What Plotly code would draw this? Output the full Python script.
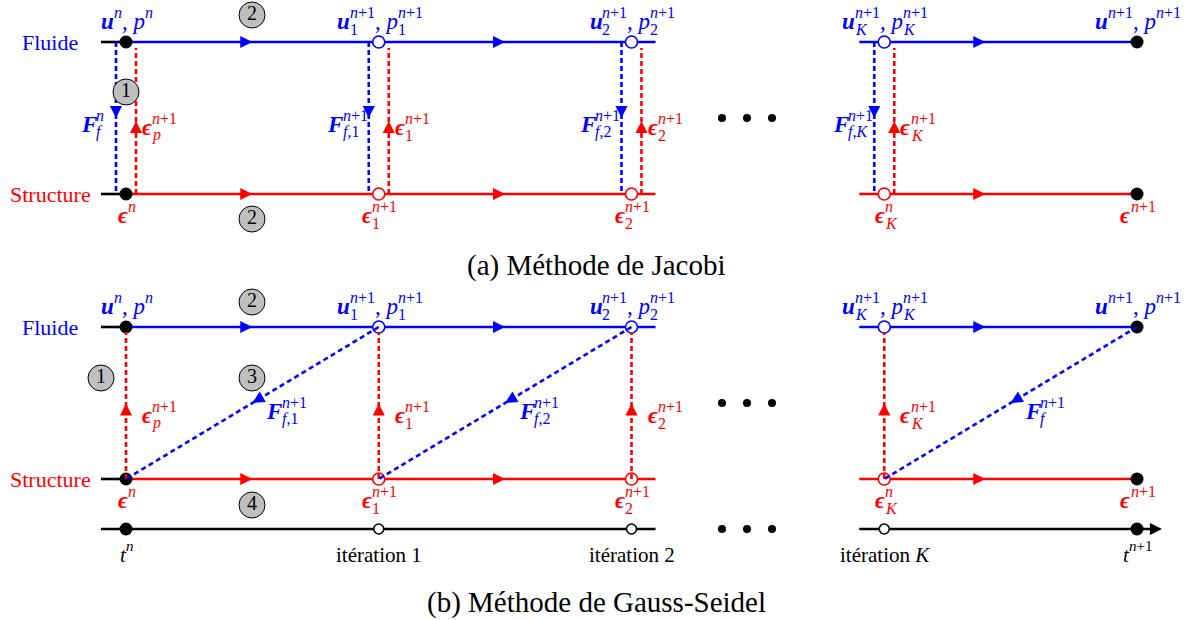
import re
import plotly.graph_objects as go

W, H = 1192, 620
X0, STEP = 126, 252.75          # horizontal placement of iteration nodes
BLUE, RED, BLACK = "#0000ff", "#ff0000", "#000000"
FONT = "Liberation Serif, DejaVu Serif, serif"

# ---------------- data ----------------
node_index = [0, 1, 2, 3, 4]                     # t^n, it. 1, it. 2, it. K, t^{n+1}
node_solid = [True, False, False, False, True]
flow_arrow_pos = [0.5, 1.5, 3.4]                 # arrow marks on the time lines

U = "<b><i>u</i></b>"
P = ", <i>p</i>"
E = "<b><i>ϵ</i></b>"
F = "<b><i>F</i></b>"
N, N1 = "<i>n</i>", "<i>n</i>+1"

fluid_labels = [
    [(U, N, ""), (P, N, "")],
    [(U, N1, "1"), (P, N1, "1")],
    [(U, N1, "2"), (P, N1, "2")],
    [(U, N1, "<i>K</i>"), (P, N1, "<i>K</i>")],
    [(U, N1, ""), (P, N1, "")],
]
struct_labels = [
    [(E, N, "")],
    [(E, N1, "1")],
    [(E, N1, "2")],
    [(E, N, "<i>K</i>")],
    [(E, N1, "")],
]
jacobi_force_labels = [
    [(F, N, "<i>f</i>")],
    [(F, N1, "<i>f</i>,1")],
    [(F, N1, "<i>f</i>,2")],
    [(F, N1, "<i>f</i>,<i>K</i>")],
]
disp_labels = [
    [(E, N1, "<i>p</i>")],
    [(E, N1, "1")],
    [(E, N1, "2")],
    [(E, N1, "<i>K</i>")],
]
gs_diag_from = [0, 1, 3]                          # structure node of each transfer
gs_force_labels = [
    [(F, N1, "<i>f</i>,1")],
    [(F, N1, "<i>f</i>,2")],
    [(F, N1, "<i>f</i>")],
]
time_labels = [
    [("<i>t</i>", N, "")],
    [("itération 1", "", "")],
    [("itération 2", "", "")],
    [("itération <i>K</i>", "", "")],
    [("<i>t</i>", N1, "")],
]
row_names = ["Fluide", "Structure"]
captions = ["(a) Méthode de Jacobi", "(b) Méthode de Gauss-Seidel"]

# ---------------- layout constants ----------------
YA_F, YA_S = 42, 194
YB_F, YB_S, YB_T = 327, 479, 529


def nx(i):
    return X0 + STEP * i


fig = go.Figure()


def seg(x0, y0, x1, y1, color, dash=None, width=2.6):
    fig.add_trace(go.Scatter(x=[x0, x1], y=[y0, y1], mode="lines",
                             line=dict(color=color, width=width, dash=dash),
                             hoverinfo="skip", showlegend=False, cliponaxis=False))


def head(x, y, dx, dy, color, L=7):
    n = (dx * dx + dy * dy) ** 0.5
    fig.add_annotation(x=x, y=y, ax=x - dx / n * L, ay=y - dy / n * L,
                       xref="x", yref="y", axref="x", ayref="y", text="",
                       showarrow=True, arrowhead=2, arrowsize=1.1,
                       arrowwidth=2.2, arrowcolor=color)


def dots(xs, ys, color=BLACK, size=13, open_=False, lw=1.6):
    fig.add_trace(go.Scatter(
        x=xs, y=ys, mode="markers", hoverinfo="skip", showlegend=False,
        cliponaxis=False,
        marker=dict(size=size, color="white" if open_ else color,
                    line=dict(color=color, width=lw if open_ else 0))))


EMW = {",": .25, " ": .25, "+": .564, "1": .5, "2": .5, "n": .5, "p": .5,
       "f": .3, "K": .667, "u": .56, "F": .667, "ϵ": .45, "t": .3,
       "i": .278, "é": .444, "r": .333, "a": .444, "o": .5}


def tw(html, size):
    s = re.sub("<[^>]+>", "", html)
    return sum(EMW.get(c, .5) for c in s) * size


BS, SS = 23, 16


def math(tokens, x, base, color, anchor="center", bs=BS, ss=SS):
    total = sum(tw(b, bs) + max(tw(u, ss), tw(d, ss)) for b, u, d in tokens)
    cur = {"center": x - total / 2, "right": x - total, "left": x}[anchor]
    mid = base - 7
    for b, u, d in tokens:
        fig.add_annotation(x=cur, y=mid, text=b, showarrow=False, xanchor="left",
                           yanchor="middle", borderpad=0,
                           font=dict(family=FONT, size=bs, color=color))
        cur += tw(b, bs)
        if u:
            fig.add_annotation(x=cur, y=mid - 9, text=u, showarrow=False,
                               xanchor="left", yanchor="middle", borderpad=0,
                               font=dict(family=FONT, size=ss, color=color))
        if d:
            fig.add_annotation(x=cur, y=mid + 8, text=d, showarrow=False,
                               xanchor="left", yanchor="middle", borderpad=0,
                               font=dict(family=FONT, size=ss, color=color))
        cur += max(tw(u, ss), tw(d, ss))


def text(x, y, s, size, color=BLACK, anchor="center"):
    fig.add_annotation(x=x, y=y, text=s, showarrow=False, xanchor=anchor,
                       yanchor="middle", borderpad=0,
                       font=dict(family=FONT, size=size, color=color))


def time_row(y, color):
    seg(nx(0) - 25, y, nx(0), y, BLACK)
    seg(nx(0), y, nx(2) + 24, y, color)
    seg(nx(3) - 25, y, nx(4), y, color)
    for p in flow_arrow_pos:
        head(nx(p), y, 1, 0, color)


def nodes(y, color, size_open=12):
    solid = [nx(i) for i, s in zip(node_index, node_solid) if s]
    opn = [nx(i) for i, s in zip(node_index, node_solid) if not s]
    dots(solid, [y] * len(solid), BLACK, 13)
    dots(opn, [y] * len(opn), color, size_open, open_=True)


def step(x, y, k):
    fig.add_trace(go.Scatter(
        x=[x], y=[y], mode="markers+text", text=[str(k)],
        textposition="middle center", hoverinfo="skip", showlegend=False,
        cliponaxis=False,
        textfont=dict(family=FONT, size=20, color=BLACK),
        marker=dict(size=26, color="#bfbfbf", line=dict(color=BLACK, width=1))))


# ================= (a) Jacobi =================
time_row(YA_F, BLUE)
time_row(YA_S, RED)
nodes(YA_F, BLUE)
nodes(YA_S, RED)
for i in node_index[:4]:
    xb, xr = nx(i) - 10, nx(i) + 10
    seg(xb, YA_F, xb, YA_S, BLUE, dash="5px,3px")
    head(xb, (YA_F + YA_S) / 2, 0, 1, BLUE)
    seg(xr, YA_S, xr, YA_F + 6, RED, dash="5px,3px")
    head(xr, (YA_S + YA_F + 6) / 2, 0, -1, RED)
for i, lab in zip(node_index, fluid_labels):
    math(lab, nx(i), 28, BLUE)
for i, lab in zip(node_index, struct_labels):
    math(lab, nx(i), 222, RED)
for i, lab in zip(node_index, jacobi_force_labels):
    math(lab, nx(i) - (23 if i == 0 else 12), 131, BLUE, anchor="right")
for i, lab in zip(node_index, disp_labels):
    math(lab, nx(i) + 15, 134, RED, anchor="left")
step(252, 15, 2)
step(126, 92, 1)
step(252, 219, 2)

# ================= (b) Gauss-Seidel =================
time_row(YB_F, BLUE)
time_row(YB_S, RED)
seg(nx(0) - 25, YB_T, nx(2) + 24, YB_T, BLACK)
seg(nx(3) - 25, YB_T, nx(4) + 20, YB_T, BLACK)
head(nx(4) + 25, YB_T, 1, 0, BLACK)
nodes(YB_F, BLUE)
nodes(YB_S, RED)
nodes(YB_T, BLACK, size_open=10)
for i in node_index[:4]:
    x = nx(i)
    seg(x, YB_S, x, YB_F + 5, RED, dash="5px,3px")
    head(x, (YB_S + YB_F + 5) / 2 - 2, 0, -1, RED)
for i, lab in zip(gs_diag_from, gs_force_labels):
    xa, xb = nx(i + 1), nx(i)
    seg(xa, YB_F, xb, YB_S, BLUE, dash="5px,3.5px")
    mx, my = (xa + xb) / 2, (YB_F + YB_S) / 2
    head(mx, my, xb - xa, YB_S - YB_F, BLUE)
    math(lab, mx + 13, 418, BLUE, anchor="left")
for i, lab in zip(node_index, fluid_labels):
    math(lab, nx(i), 313, BLUE)
for i, lab in zip(node_index, struct_labels):
    math(lab, nx(i), 507, RED)
for i, lab in zip(node_index, disp_labels):
    math(lab, nx(i) + 15, 422, RED, anchor="left")
for i, lab in zip(node_index, time_labels):
    math(lab, nx(i), 562, BLACK, bs=21, ss=15)
step(252, 302, 2)
step(101, 378, 1)
step(252, 378, 3)
step(252, 505, 4)

# ellipses
for y in (118, 403, 529):
    dots([722, 747, 772], [y] * 3, BLACK, 8)

# row names and captions
for yf, ys in ((YA_F, YA_S), (YB_F, YB_S)):
    text(50, yf, row_names[0], 22, BLUE)
    text(50, ys, row_names[1], 22, RED)
text(596, 265, captions[0], 29)
text(596, 602, captions[1], 29)

fig.update_layout(
    width=W, height=H, margin=dict(l=0, r=0, t=0, b=0),
    paper_bgcolor="white", plot_bgcolor="white", showlegend=False,
    xaxis=dict(range=[0, W], visible=False, fixedrange=True),
    yaxis=dict(range=[H, 0], visible=False, fixedrange=True),
)
fig.write_html(
    "out.html",
    config={"displayModeBar": False, "staticPlot": True},
    post_script="document.body.style.margin='0';"
                "document.documentElement.style.overflow='hidden';",
)
